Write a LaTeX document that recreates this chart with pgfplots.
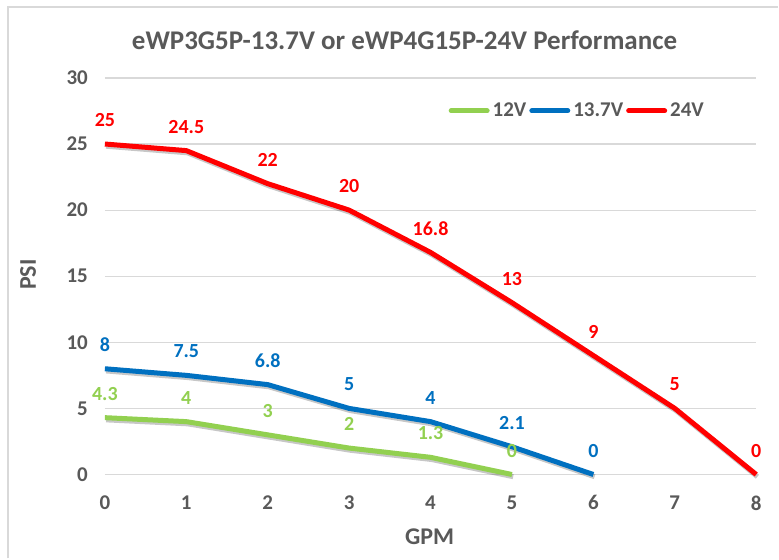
\documentclass[border=0pt]{standalone}
\usepackage{pgfplots}
\pgfplotsset{compat=1.18}
\usepackage{fontspec}
\setmainfont{Carlito}
\definecolor{cgreen}{HTML}{92D050}
\definecolor{cblue}{HTML}{0070C0}
\definecolor{cred}{HTML}{FF0000}
\definecolor{ctext}{HTML}{595959}
\definecolor{cgrid}{HTML}{D9D9D9}
\begin{document}
\begin{tikzpicture}
\path[fill=white] (0,0) rectangle (389.5pt,279.5pt);
\draw[cgrid, line width=0.8pt] (4pt,0) -- (4pt,276pt) -- (389.5pt,276pt);
\begin{axis}[
  at={(52.5pt,42pt)}, anchor=south west,
  scale only axis, width=326pt, height=198.5pt,
  xmin=0, xmax=8, ymin=0, ymax=30,
  xtick={0,...,8}, ytick={0,5,...,30},
  axis line style={draw=none},
  ymajorgrids, major grid style={cgrid, line width=0.6pt},
  major tick length=0pt,
  clip=false,
  /pgf/number format/assume math mode=true,
  ticklabel style={font=\fontsize{10.5}{12}\selectfont\bfseries, text=ctext},
  xticklabel style={yshift=-7pt},
  yticklabel style={xshift=-5pt},
  legend columns=3,
  legend style={at={(0.726,0.917)}, anchor=center, draw=none, fill=none,
    font=\fontsize{10.5}{12}\selectfont\bfseries, text=ctext,
    inner sep=0pt, nodes={inner xsep=1.5pt}, /tikz/every even column/.style={column sep=0pt}},
  legend image code/.code={\draw[#1, line cap=round] (0pt,0pt) -- (18pt,0pt);},
  every axis plot/.append style={line width=2.5pt, line join=round},
  every node near coord/.append style={anchor=center, yshift=12pt, font=\fontsize{10}{11}\selectfont\bfseries},
  point meta=explicit symbolic,
  shadow/.style={forget plot, black, opacity=0.22, transform canvas={xshift=0.6pt,yshift=-1.1pt}},
]
\addplot[shadow] coordinates {(0,4.3) (1,4) (2,3) (3,2) (4,1.3) (5,0)};
\addplot[shadow] coordinates {(0,8) (1,7.5) (2,6.8) (3,5) (4,4) (5,2.1) (6,0)};
\addplot[shadow] coordinates {(0,25) (1,24.5) (2,22) (3,20) (4,16.8) (5,13) (6,9) (7,5) (8,0)};
\addplot[cgreen, nodes near coords, every node near coord/.append style={text=cgreen}] coordinates {(0,4.3)[4.3] (1,4)[4] (2,3)[3] (3,2)[2] (4,1.3)[1.3] (5,0)[0]};
\addlegendentry{12V}
\addplot[cblue, nodes near coords, every node near coord/.append style={text=cblue}] coordinates {(0,8)[8] (1,7.5)[7.5] (2,6.8)[6.8] (3,5)[5] (4,4)[4] (5,2.1)[2.1] (6,0)[0]};
\addlegendentry{13.7V}
\addplot[cred, nodes near coords, every node near coord/.append style={text=cred}] coordinates {(0,25)[25] (1,24.5)[24.5] (2,22)[22] (3,20)[20] (4,16.8)[16.8] (5,13)[13] (6,9)[9] (7,5)[5] (8,0)[0]};
\addlegendentry{24V}
\end{axis}
\node[text=ctext, font=\fontsize{13.5}{15}\selectfont\bfseries] at (202.5pt,259.5pt) {eWP3G5P-13.7V or eWP4G15P-24V Performance};
\node[text=ctext, font=\fontsize{12}{14}\selectfont\bfseries, rotate=90] at (14pt,142pt) {PSI};
\node[text=ctext, font=\fontsize{12}{14}\selectfont\bfseries] at (215pt,11pt) {GPM};
\end{tikzpicture}
\end{document}
